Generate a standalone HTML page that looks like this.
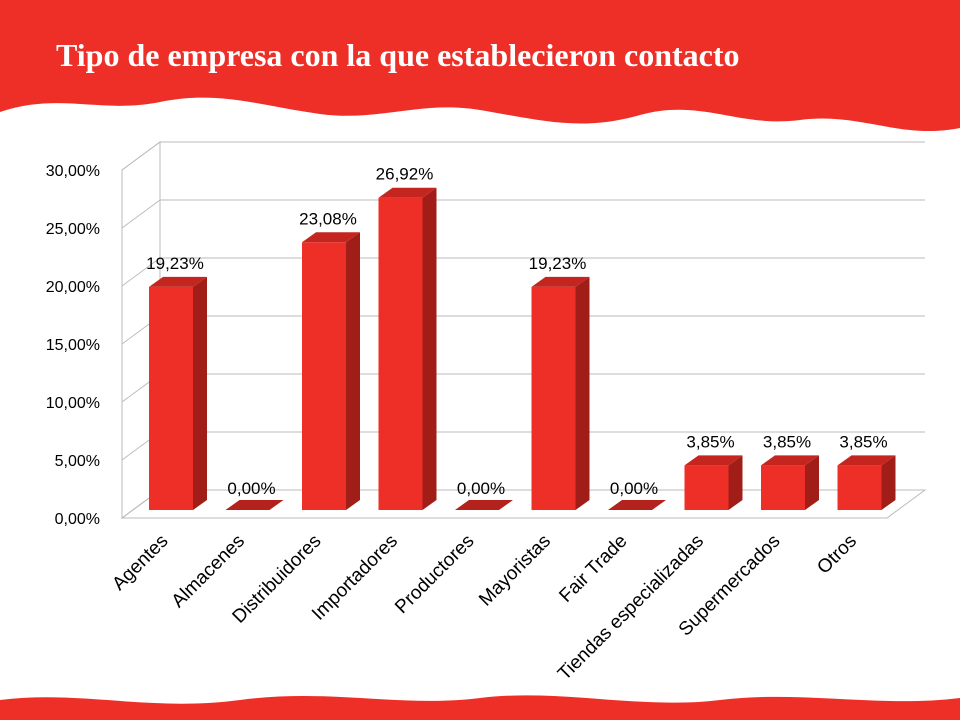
<!DOCTYPE html>
<html><head><meta charset="utf-8"><style>
body{margin:0;width:960px;height:720px;overflow:hidden;background:#fff;font-family:"Liberation Sans",sans-serif}
</style></head><body>
<svg id="c" width="960" height="720" xmlns="http://www.w3.org/2000/svg">
<path d="M0,0H960V128C900,140 860,112 800,120C740,128 700,98 640,115C580,132 540,120 480,110C420,100 380,122 320,114C260,106 220,90 160,102C100,114 60,92 0,112Z" fill="#ee2f27"/>
<text x="56" y="66" fill="#fff" font-family="Liberation Serif,serif" font-weight="bold" font-size="32">Tipo de empresa con la que establecieron contacto</text>
<path d="M0,720V700C80,690 150,712 240,700C330,688 400,708 480,698C560,688 640,710 720,700C800,690 880,708 960,698V720Z" fill="#ee2f27"/>
<g id="plot"></g>
</svg>
<script>
const categories=["Agentes","Almacenes","Distribuidores","Importadores","Productores","Mayoristas","Fair Trade","Tiendas especializadas","Supermercados","Otros"];
const values=[19.23,0,23.08,26.92,0,19.23,0,3.85,3.85,3.85];
const valueLabels=["19,23%","0,00%","23,08%","26,92%","0,00%","19,23%","0,00%","3,85%","3,85%","3,85%"];
const yTicks=[0,5,10,15,20,25,30];
const yTickLabels=["0,00%","5,00%","10,00%","15,00%","20,00%","25,00%","30,00%"];
const NS="http://www.w3.org/2000/svg";
const g=document.getElementById('plot');
const y0=518,ppu=11.6,xL=122,dx=38,dy=-28,xR=925;
function y(v){return y0-v*ppu;}
function xc(i){return 171+i*76.5;}
function mk(t,a){const e=document.createElementNS(NS,t);for(const k in a)e.setAttribute(k,a[k]);g.appendChild(e);return e;}
let w=mk('path',{d:`M${xL},${y(30)}L${xL+dx},${y(30)+dy}L${xL+dx},${y0+dy}L${xL},${y0}Z`,fill:'none',stroke:'#bbb'});

let f=mk('path',{d:`M${xL},${y0}L${xL+dx},${y0+dy}L${xR},${y0+dy}L${xR-dx},${y0}Z`,fill:'none',stroke:'#bbb'});

yTicks.forEach((t,i)=>{
 const l=mk('path',{d:`M${xL},${y(t)}L${xL+dx},${y(t)+dy}L${xR},${y(t)+dy}`,fill:'none',stroke:'#bbb'});
 
 const tx=mk('text',{x:100,y:y(t)+6,'text-anchor':'end','font-size':16,fill:'#000'});
 tx.textContent=yTickLabels[i];
 
});
const bw=44,bd=14,bh=-10,base=510;
values.forEach((v,i)=>{
 const x=xc(i)-bw/2,top=base-v*ppu;
 if(v>0){
  const fr=mk('rect',{x:x,y:top,width:bw,height:base-top,fill:'#ee2f27'});
  
  const sd=mk('path',{d:`M${x+bw},${top}L${x+bw+bd},${top+bh}L${x+bw+bd},${base+bh}L${x+bw},${base}Z`,fill:'#a11d18'});
  
 }
 const tp=mk('path',{d:`M${x},${top}L${x+bd},${top+bh}L${x+bw+bd},${top+bh}L${x+bw},${top}Z`,fill:v>0?'#c4261f':'#b3221c'});
 
 const lb=mk('text',{x:xc(i)+4,y:top-10+(v>0?-8:-6),'text-anchor':'middle','font-size':17,fill:'#000'});
 lb.textContent=valueLabels[i];
 
 const cl=mk('text',{x:0,y:0,'text-anchor':'end','font-size':19,fill:'#000',transform:`translate(${xc(i)-2},${542}) rotate(-45)`});
 cl.textContent=categories[i];
 
});
</script>
</body></html>
